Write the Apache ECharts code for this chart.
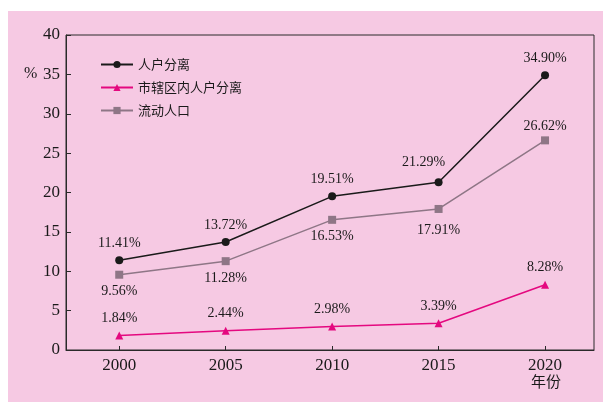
<!DOCTYPE html>
<html>
<head>
<meta charset="utf-8">
<script src="https://cdn.jsdelivr.net/npm/echarts@6/dist/echarts.min.js"></script>
<style>
  html, body { margin: 0; padding: 0; background: #fff; }
  #chart { width: 603px; height: 402px; }
</style>
</head>
<body>
<div id="chart"></div>
<script>
const years = [2000, 2005, 2010, 2015, 2020]
const renhu = [11.41, 13.72, 19.51, 21.29, 34.90]
const shixia = [1.84, 2.44, 2.98, 3.39, 8.28]
const liudong = [9.56, 11.28, 16.53, 17.91, 26.62]
const yTicks = [0, 5, 10, 15, 20, 25, 30, 35, 40]

const serif = '"Liberation Serif", "DejaVu Serif", serif'
const cjk = '"Noto Sans CJK SC", sans-serif'

const chart = echarts.init(document.getElementById('chart'))

const pct = p => p.value[1].toFixed(2) + '%'
const pairs = arr => arr.map((v, i) => [years[i], v])

const option = {
  animation: false,
  graphic: [{
    type: 'rect', z: -10,
    shape: { x: 8, y: 11, width: 595, height: 391 },
    style: { fill: '#f6c9e3' }
  }, {
    type: 'text', left: 24, top: 66,
    style: { text: '%', font: '16px ' + serif, fill: '#1a1a1a' }
  }, {
    type: 'text', left: 531, top: 374,
    style: { text: '年份', font: '15px ' + cjk, fill: '#1a1a1a' }
  }],
  grid: {
    left: 66, right: 9, top: 35, bottom: 52,
    show: true, borderColor: '#2a2a2a', borderWidth: 1,
    backgroundColor: 'transparent'
  },
  legend: {
    orient: 'vertical', left: 95, top: 53, itemGap: 10,
    itemWidth: 32, itemHeight: 9,
    textStyle: { fontFamily: cjk, fontSize: 13, color: '#1a1a1a' },
    data: ['人户分离', '市辖区内人户分离', '流动人口']
  },
  xAxis: {
    type: 'value', min: 1997.5, max: 2022.3,
    splitLine: { show: false },
    axisLine: { lineStyle: { color: '#2a2a2a', width: 1 } },
    axisTick: { inside: true, length: 4, customValues: years, lineStyle: { color: '#2a2a2a' } },
    axisLabel: {
      customValues: years, margin: 7, formatter: v => String(v),
      fontFamily: serif, fontSize: 17, color: '#1a1a1a'
    }
  },
  yAxis: {
    type: 'value', min: 0, max: 40, interval: 5,
    splitLine: { show: false },
    axisLine: { show: true, lineStyle: { color: '#2a2a2a', width: 1 } },
    axisTick: { inside: true, length: 5, lineStyle: { color: '#2a2a2a' } },
    axisLabel: {
      margin: 6, fontFamily: serif, fontSize: 17, color: '#1a1a1a',
      formatter: v => yTicks.includes(v) ? String(v) : ''
    }
  },
  series: [{
    name: '人户分离', type: 'line', data: pairs(renhu),
    symbol: 'circle', symbolSize: 8,
    lineStyle: { color: '#1a1a1a', width: 1.5 },
    itemStyle: { color: '#1a1a1a' },
    label: {
      show: true, position: 'top', distance: 6, formatter: pct,
      fontFamily: serif, fontSize: 14, color: '#1a1a1a'
    },
    // 21.29 标签偏左
    labelLayout: p => p.dataIndex === 3 ? { dx: -15, dy: -3 } : {}
  }, {
    name: '市辖区内人户分离', type: 'line', data: pairs(shixia),
    symbol: 'triangle', symbolSize: 8,
    lineStyle: { color: '#e4087f', width: 1.5 },
    itemStyle: { color: '#e4087f' },
    label: {
      show: true, position: 'top', distance: 6, formatter: pct,
      fontFamily: serif, fontSize: 14, color: '#1a1a1a'
    }
  }, {
    name: '流动人口', type: 'line', data: pairs(liudong),
    symbol: 'rect', symbolSize: 8,
    lineStyle: { color: '#8e7686', width: 1.5 },
    itemStyle: { color: '#8e7686' },
    label: {
      show: true, position: 'bottom', distance: 6, formatter: pct,
      fontFamily: serif, fontSize: 14, color: '#1a1a1a'
    },
    labelLayout: p => {
      if (p.dataIndex === 4) return { dy: -31 }
      if (p.dataIndex === 3) return { dy: 4 }
      return {}
    }
  }]
}

chart.setOption(option)
</script>
</body>
</html>
